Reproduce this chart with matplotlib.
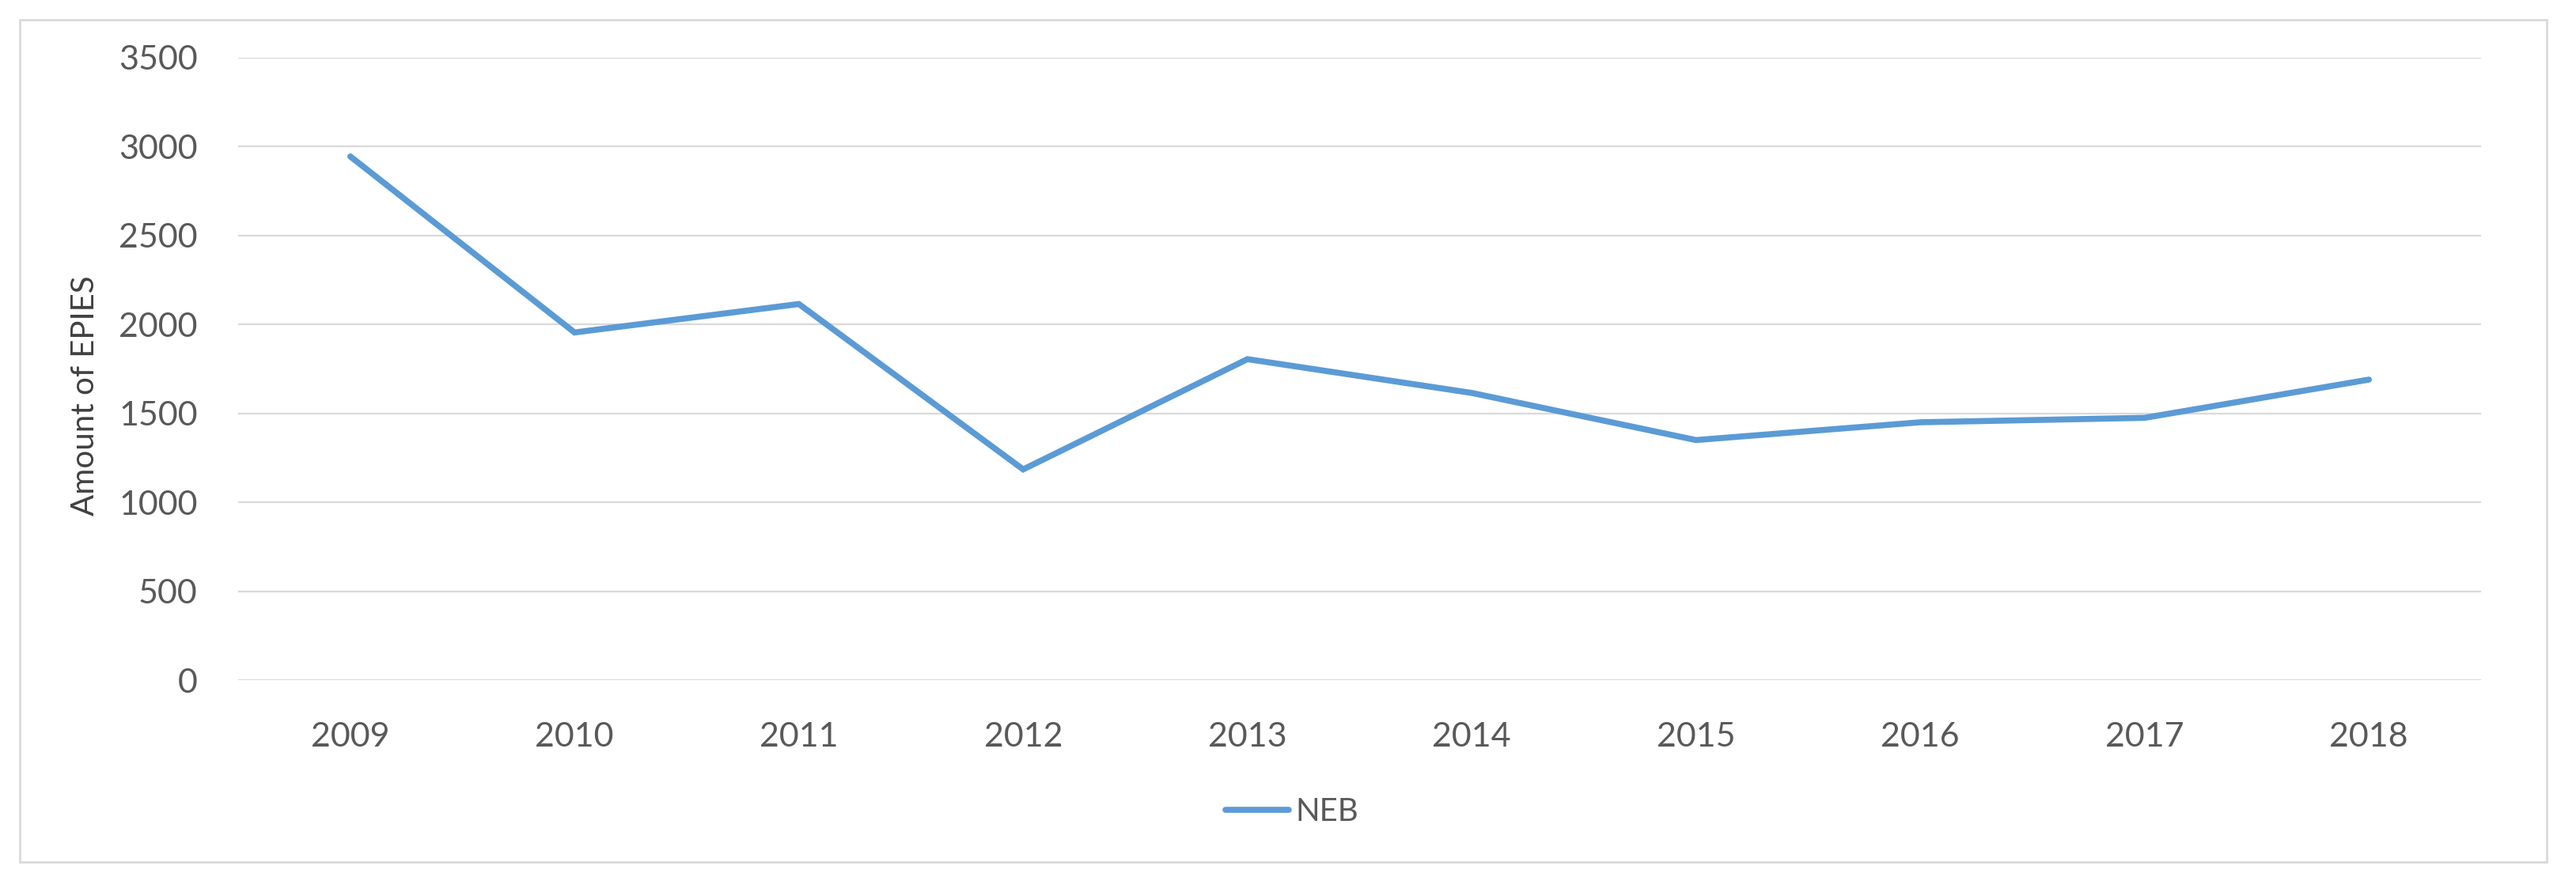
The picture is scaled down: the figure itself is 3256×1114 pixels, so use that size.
import matplotlib.pyplot as plt
from matplotlib.patches import Rectangle

years = ['2009', '2010', '2011', '2012', '2013', '2014', '2015', '2016', '2017', '2018']
neb = [2945, 1955, 2115, 1185, 1805, 1615, 1350, 1450, 1475, 1690]
yticks = [0, 500, 1000, 1500, 2000, 2500, 3000, 3500]

txt = '#595959'
blue = '#5B9BD5'
plt.rcParams['font.family'] = ['Lato', 'DejaVu Sans']

fig = plt.figure(figsize=(32.56, 11.14), dpi=100)
ax = fig.add_axes([301 / 3256, 1 - 860 / 1114, (3136 - 301) / 3256, (860 - 73) / 1114])

x = list(range(len(years)))
line, = ax.plot(x, neb, color=blue, lw=5.5, solid_capstyle='round',
                solid_joinstyle='miter', label='NEB', zorder=3)

ax.set_xlim(-0.5, len(years) - 0.5)
ax.set_ylim(0, 3500)
ax.set_yticks(yticks)
ax.set_xticks(x)
ax.set_xticklabels(years)
ax.yaxis.grid(True, color='#D9D9D9', lw=1.6)
ax.set_axisbelow(True)
for s in ax.spines.values():
    s.set_visible(False)
ax.tick_params(length=0, labelsize=31, labelcolor=txt)
ax.tick_params(axis='y', pad=37)
ax.tick_params(axis='x', pad=38)
ax.set_ylabel('Amount of EPIES', fontsize=29, color='#404040', labelpad=17)
ax.yaxis.label.set_y(0.457)

leg = fig.legend(handles=[line], loc='center', bbox_to_anchor=(1633 / 3256, 1 - 1027 / 1114),
                 frameon=False, fontsize=29, handlelength=2.0, handletextpad=0.2)
for t in leg.get_texts():
    t.set_color(txt)

# outer chart border
fig.patches.append(Rectangle((25 / 3256, 1 - 1090 / 1114), (3219 - 25) / 3256, (1090 - 25) / 1114,
                             transform=fig.transFigure, fill=False, edgecolor='#D9D9D9', lw=2))

fig.savefig('out.png', dpi=100, facecolor='white')
